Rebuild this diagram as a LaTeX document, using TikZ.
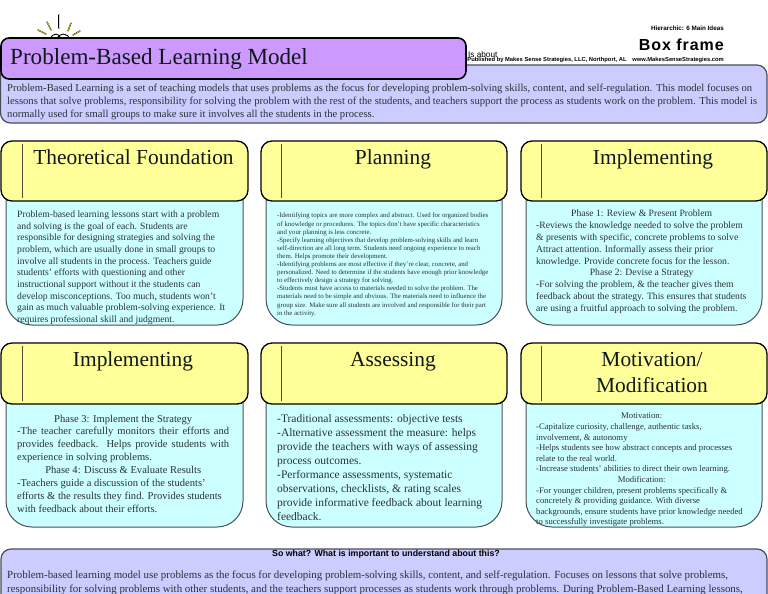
\documentclass[tikz,border=0pt]{standalone}
\usepackage{fontspec}
\setmainfont{Liberation Serif}
\newfontfamily\arl{Liberation Sans}
\newcommand{\fs}[2]{\fontsize{#1}{#2}\selectfont}
\newcommand{\cl}[2]{\makebox[#1][c]{#2}}
\newcommand{\jl}[2]{\makebox[#1][s]{#2}}
\definecolor{purp}{HTML}{CC99FF}
\definecolor{lav}{HTML}{CCCCFF}
\definecolor{yel}{HTML}{FFFF99}
\definecolor{cya}{HTML}{CCFFFF}
\definecolor{edge}{HTML}{4A4F55}
\definecolor{ink}{HTML}{10181C}
\definecolor{bodyink}{HTML}{2A3236}
\tikzset{
  x=1pt,y=-1pt,
  head/.style={draw=black,line width=1.3pt,fill=yel,rounded corners=11pt},
  bodybox/.style={draw=edge,line width=1pt,fill=cya},
  band/.style={draw=edge,line width=1.2pt,fill=lav,rounded corners=10pt},
  headtext/.style={inner sep=0pt,text=ink,font=\fs{21.4}{26},anchor=base},
  bodytext/.style={inner sep=0pt,anchor=north west,align=left,text=bodyink},
  tick/.style={draw=black!80!yellow,line width=0.8pt},
  ray/.style={draw=black,line width=1.2pt,line cap=round},
  rayin/.style={draw=yellow,line width=0.5pt,line cap=round},
  sanstext/.style={inner sep=0pt,text=black}
}
\newcommand{\panel}[7]{% name, x0, x1, y0 head, y1 head, y bottom, tick x
  \path[bodybox] (#2+5,#5-8) [rounded corners=26pt] -- (#2+5,#6) -- (#3-5,#6) [sharp corners] -- (#3-5,#5-8) -- cycle;
  \path[head] (#2,#4) rectangle (#3,#5);
  \draw[tick] (#7,#4+3) -- (#7,#5-3);
  \node[coordinate] (#1) at (#2,#4) {};
}
\begin{document}
\begin{tikzpicture}
\useasboundingbox (0,0) rectangle (768,594);
\clip (0,0) rectangle (768,594);
% bulb
\foreach \a/\b/\c/\d in {59/15/59/28,47/22/51/30,38/30/46/34,71/23/68/31,80/31/73/35}{
  \draw[ray] (\a,\b) -- (\c,\d);
  \draw[rayin] (\a,\b) -- (\c,\d);
}
\draw[line width=0.9pt] (50,40) .. controls (52,32) and (60,32) .. (61,40);
\draw[line width=0.9pt] (57,40) .. controls (58,32) and (68,32) .. (70,40);
% intro band
\path[band] (0.5,65) rectangle (767,123);
\path[draw=black,line width=1.6pt,fill=purp,rounded corners=8pt] (1,38) rectangle (466,79);
\node[inner sep=0pt,anchor=base west,text=ink,font=\fs{23.1}{28}] (title) at (10,64) {Problem-Based Learning Model};
\node[bodytext,font=\fs{10.63}{12.7}] (intro) at (7,84) {\jl{745pt}{Problem-Based Learning is a set of teaching models that uses problems as the focus for developing problem-solving skills, content, and self-regulation. This model focuses on}\\
lessons that solve problems, responsibility for solving the problem with the rest of the students, and teachers support the process as students work on the problem. This model is\\
normally used for small groups to make sure it involves all the students in the process.};
% top right
\node[sanstext,anchor=east,font=\arl\bfseries\fs{6.3}{8}] (hier) at (724,28) {Hierarchic: 6 Main Ideas};
\node[sanstext,anchor=east,font=\arl\bfseries\fs{16}{18}] (frame) at (724,45) {\addfontfeature{LetterSpace=6}Box frame};
\node[sanstext,anchor=west,font=\arl\fs{8.2}{9}] (isabout) at (468,55) {Is about};
\node[sanstext,anchor=east,font=\arl\bfseries\fs{5.8}{7}] (pub) at (724,60) {Published by Makes Sense Strategies, LLC, Northport, AL\quad www.MakesSenseStrategies.com};
% panels
\panel{p1}{1}{248}{141}{201}{325}{22}
\panel{p2}{261}{507}{141}{201}{325}{281}
\panel{p3}{521}{767}{141}{201}{325}{541}
\panel{p4}{1}{248}{343}{404}{527}{22}
\panel{p5}{261}{507}{343}{404}{527}{281}
\panel{p6}{521}{767}{343}{404}{527}{541}
\node[headtext] (h1) at (133.5,164) {Theoretical Foundation};
\node[headtext] (h2) at (393,164) {Planning};
\node[headtext] (h3) at (653,164) {Implementing};
\node[headtext] (h4) at (133,366) {Implementing};
\node[headtext] (h5) at (393,366) {Assessing};
\node[headtext] (h6) at (652,366) {Motivation/};
\node[headtext] (h7) at (652,392) {Modification};
% body texts
\node[bodytext,font=\fs{9.65}{11.67}] (t1) at (17,210.5) {Problem-based learning lessons start with a problem\\
and solving is the goal of each. Students are\\
responsible for designing strategies and solving the\\
problem, which are usually done in small groups to\\
involve all students in the process. Teachers guide\\
students' efforts with questioning and other\\
instructional support without it the students can\\
develop misconceptions. Too much, students won't\\
gain as much valuable problem-solving experience. It\\
requires professional skill and judgment.};
\node[bodytext,font=\fs{6.8}{8.1}] (t2) at (277,213) {-Identifying topics are more complex and abstract. Used for organized bodies\\
of knowledge or procedures. The topics don't have specific characteristics\\
and your planning is less concrete.\\
-Specify learning objectives that develop problem-solving skills and learn\\
self-direction are all long term. Students need ongoing experience to reach\\
them. Helps promote their development.\\
-Identifying problems are most effective if they're clear, concrete, and\\
personalized. Need to determine if the students have enough prior knowledge\\
to effectively design a strategy for solving.\\
-Students must have access to materials needed to solve the problem. The\\
materials need to be simple and obvious. The materials need to influence the\\
group size. Make sure all students are involved and responsible for their part\\
in the activity.};
\node[bodytext,font=\fs{9.65}{11.8}] (t3) at (536,210) {\cl{211pt}{Phase 1: Review \& Present Problem}\\
-Reviews the knowledge needed to solve the problem\\
\& presents with specific, concrete problems to solve\\
Attract attention. Informally assess their prior\\
knowledge. Provide concrete focus for the lesson.\\
\cl{211pt}{Phase 2: Devise a Strategy}\\
-For solving the problem, \& the teacher gives them\\
feedback about the strategy. This ensures that students\\
are using a fruitful approach to solving the problem.};
\node[bodytext,font=\fs{10.55}{12.9}] (t4) at (17,414.5) {\cl{212pt}{Phase 3: Implement the Strategy}\\
\jl{212pt}{-The teacher carefully monitors their efforts and}\\
\jl{212pt}{provides feedback. Helps provide students with}\\
experience in solving problems.\\
\cl{212pt}{Phase 4: Discuss \& Evaluate Results}\\
-Teachers guide a discussion of the students'\\
efforts \& the results they find. Provides students\\
with feedback about their efforts.};
\node[bodytext,font=\fs{11.5}{14.1}] (t5) at (277,414) {-Traditional assessments: objective tests\\
-Alternative assessment the measure: helps\\
provide the teachers with ways of assessing\\
process outcomes.\\
-Performance assessments, systematic\\
observations, checklists, \& rating scales\\
provide informative feedback about learning\\
feedback.};
\node[bodytext,font=\fs{8.68}{10.6}] (t6) at (536,413) {\cl{211pt}{Motivation:}\\
-Capitalize curiosity, challenge, authentic tasks,\\
involvement, \& autonomy\\
-Helps students see how abstract concepts and processes\\
relate to the real world.\\
-Increase students' abilities to direct their own learning.\\
\cl{211pt}{Modification:}\\
-For younger children, present problems specifically \&\\
concretely \& providing guidance. With diverse\\
backgrounds, ensure students have prior knowledge needed\\
to successfully investigate problems.};
% bottom band
\path[band] (1,549) rectangle (767,620);
\node[sanstext,font=\arl\bfseries\fs{8.8}{10}] (what) at (386,554) {So what? What is important to understand about this?};
\node[bodytext,font=\fs{10.9}{13.7}] (t7) at (7,571) {Problem-based learning model use problems as the focus for developing problem-solving skills, content, and self-regulation. Focuses on lessons that solve problems,\\
responsibility for solving problems with other students, and the teachers support processes as students work through problems. During Problem-Based Learning lessons,};
\end{tikzpicture}
\end{document}
